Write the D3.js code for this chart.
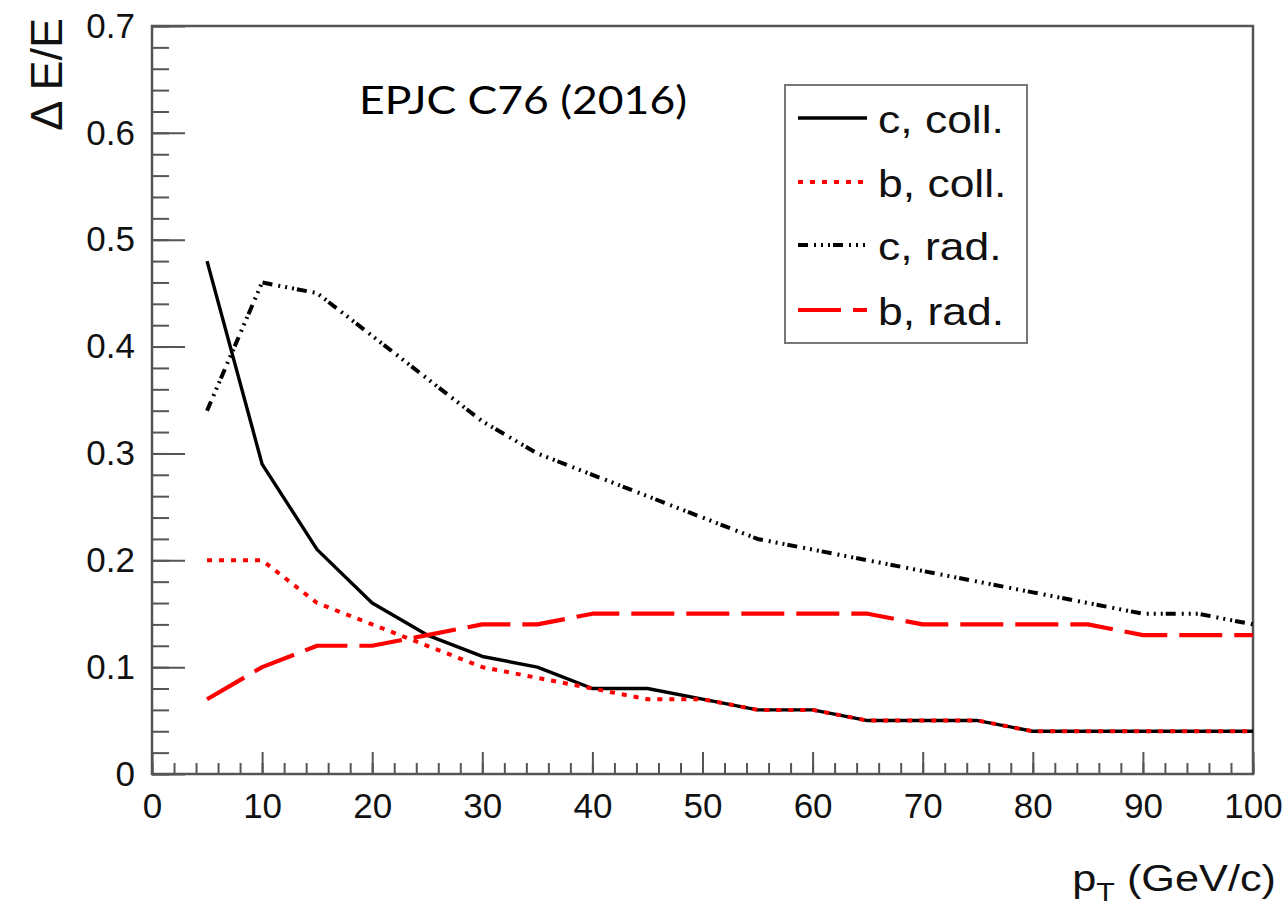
<!DOCTYPE html>
<html>
<head>
<meta charset="utf-8">
<script src="https://cdn.jsdelivr.net/npm/d3@7"></script>
<style>
  html, body { margin: 0; padding: 0; background: #fff; }
  svg { display: block; }
</style>
</head>
<body>
<svg id="chart" width="1288" height="909"></svg>
<script>
// ---- data ----
const pT = [5, 10, 15, 20, 25, 30, 35, 40, 45, 50, 55, 60, 65, 70, 75, 80, 85, 90, 95, 100];
const cColl = [0.48, 0.29, 0.21, 0.16, 0.13, 0.11, 0.10, 0.08, 0.08, 0.07, 0.06, 0.06, 0.05, 0.05, 0.05, 0.04, 0.04, 0.04, 0.04, 0.04];
const bColl = [0.20, 0.20, 0.16, 0.14, 0.12, 0.10, 0.09, 0.08, 0.07, 0.07, 0.06, 0.06, 0.05, 0.05, 0.05, 0.04, 0.04, 0.04, 0.04, 0.04];
const cRad  = [0.34, 0.46, 0.45, 0.41, 0.37, 0.33, 0.30, 0.28, 0.26, 0.24, 0.22, 0.21, 0.20, 0.19, 0.18, 0.17, 0.16, 0.15, 0.15, 0.14];
const bRad  = [0.07, 0.10, 0.12, 0.12, 0.13, 0.14, 0.14, 0.15, 0.15, 0.15, 0.15, 0.15, 0.15, 0.14, 0.14, 0.14, 0.14, 0.13, 0.13, 0.13];
const seriesNames = ["c, coll.", "b, coll.", "c, rad.", "b, rad."];
const xMajorTicks = [0, 10, 20, 30, 40, 50, 60, 70, 80, 90, 100];
const yMajorTicks = [0, 0.1, 0.2, 0.3, 0.4, 0.5, 0.6, 0.7];
const titleText = "EPJC C76 (2016)";

// ---- layout ----
const W = 1288, H = 909;
const m = { left: 152, right: 35, top: 26, bottom: 135 };
const svg = d3.select("#chart");
const x = d3.scaleLinear().domain([0, 100]).range([m.left, W - m.right]);
const y = d3.scaleLinear().domain([0, 0.7]).range([H - m.bottom, m.top]);
const axisColor = "#555";
const font = "'Liberation Sans', Arial, Helvetica, sans-serif";
const stretch = 1.17;

// frame
svg.append("rect")
  .attr("x", x(0)).attr("y", y(0.7))
  .attr("width", x(100) - x(0)).attr("height", y(0) - y(0.7))
  .attr("fill", "none").attr("stroke", axisColor).attr("stroke-width", 2.5);

// y axis
const yMinor = d3.range(0, 0.7001, 0.02);
const gyMinor = svg.append("g").attr("transform", `translate(${x(0)},0)`)
  .call(d3.axisLeft(y).tickValues(yMinor).tickSize(-17).tickFormat(""));
const gy = svg.append("g").attr("transform", `translate(${x(0)},0)`)
  .call(d3.axisLeft(y).tickValues(yMajorTicks).tickSize(-33).tickPadding(17)
    .tickFormat(d => d === 0 ? "0" : d3.format(".1f")(d)));

// x axis
const xMinor = d3.range(0, 100.001, 2);
const gxMinor = svg.append("g").attr("transform", `translate(0,${y(0)})`)
  .call(d3.axisBottom(x).tickValues(xMinor).tickSize(-11).tickFormat(""));
const gx = svg.append("g").attr("transform", `translate(0,${y(0)})`)
  .call(d3.axisBottom(x).tickValues(xMajorTicks).tickSize(-22).tickPadding(19)
    .tickFormat(d3.format("d")));

[gy, gx, gyMinor, gxMinor].forEach(g => {
  g.select(".domain").remove();
  g.selectAll(".tick line").attr("stroke", axisColor).attr("stroke-width", 2);
  g.selectAll(".tick text").attr("font-family", font).attr("font-size", 35).attr("fill", "#111");
});

// series
const line = d3.line().x(d => x(d[0])).y(d => y(d[1]));
const series = [
  { vals: cColl, color: "#000", width: 3.4, dash: null },
  { vals: bColl, color: "#ff0000", width: 4, dash: "5,7" },
  { vals: cRad,  color: "#000", width: 4, dash: "10,6,2,5,2,5,2,3" },
  { vals: bRad,  color: "#ff0000", width: 4.2, dash: "43,12" }
];
svg.append("clipPath").attr("id", "plotclip").append("rect")
  .attr("x", x(0)).attr("y", y(0.7)).attr("width", x(100) - x(0)).attr("height", y(0) - y(0.7));
series.forEach(s => {
  svg.append("path")
    .datum(pT.map((p, i) => [p, s.vals[i]]))
    .attr("d", line)
    .attr("fill", "none")
    .attr("stroke", s.color)
    .attr("stroke-width", s.width)
    .attr("stroke-dasharray", s.dash)
    .attr("stroke-linejoin", "round")
    .attr("clip-path", "url(#plotclip)");
});

// legend
const lg = svg.append("g");
lg.append("rect").attr("x", 785).attr("y", 85).attr("width", 242).attr("height", 258)
  .attr("fill", "#fff").attr("stroke", "#777").attr("stroke-width", 2);
const rowBase = [133, 197, 260, 325];
series.forEach((s, i) => {
  const ly = rowBase[i] - 15;
  lg.append("line").attr("x1", 798).attr("x2", 867).attr("y1", ly).attr("y2", ly)
    .attr("stroke", s.color).attr("stroke-width", s.width).attr("stroke-dasharray", s.dash);
  lg.append("g").attr("transform", `translate(878,${rowBase[i]}) scale(${stretch},1)`)
    .append("text")
    .attr("font-family", font).attr("font-size", 38).attr("fill", "#111")
    .text(seriesNames[i]);
});

// annotation title
svg.append("g").attr("transform", `translate(359,114) scale(${stretch},1)`)
  .append("text")
  .attr("font-family", "Lato, 'Open Sans', sans-serif").attr("font-size", 38).attr("fill", "#000")
  .text(titleText);

// x axis title
const xt = svg.append("g").attr("transform", `translate(1276,891) scale(${stretch},1)`)
  .append("text").attr("text-anchor", "end")
  .attr("font-family", font).attr("font-size", 37).attr("fill", "#111");
xt.append("tspan").text("p");
xt.append("tspan").attr("font-size", 26).attr("dy", 10).text("T");
xt.append("tspan").attr("dy", -10).text(" (GeV/c)");

// y axis title
svg.append("text")
  .attr("transform", "translate(62,18) rotate(-90)")
  .attr("text-anchor", "end")
  .attr("font-family", font).attr("font-size", 45).attr("fill", "#111")
  .text("Δ E/E");
</script>
</body>
</html>
